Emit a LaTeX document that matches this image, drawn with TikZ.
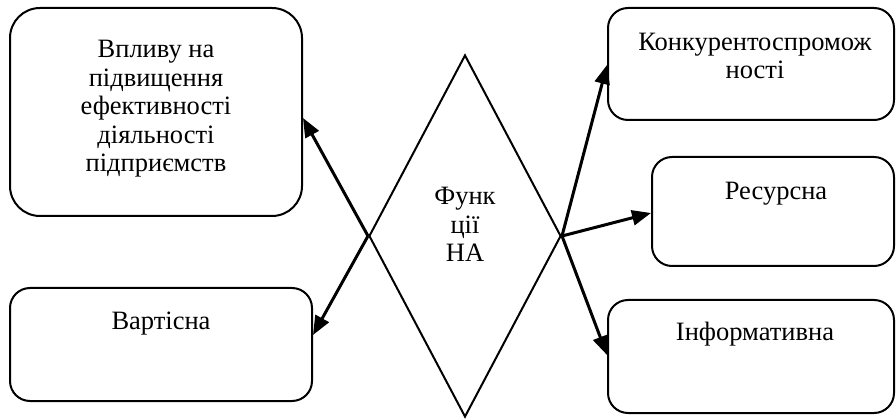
\documentclass[tikz,border=0pt]{standalone}
\usepackage{fontspec}
\setmainfont{Liberation Serif}
\usetikzlibrary{shapes.geometric,arrows.meta}
\begin{document}
\begin{tikzpicture}[x=1pt,y=-1pt,
  box/.style={draw,line width=2pt,inner sep=0pt},
  lab/.style={font=\fontsize{26.5}{28.5}\selectfont,align=center,inner sep=0pt,anchor=base},
  arr/.style={line width=3pt,-{Triangle[length=19pt,width=15pt]}},
  dia/.style={draw,line width=2pt,diamond,inner sep=0pt,minimum width=192pt,minimum height=362pt}]
\useasboundingbox (0,0) rectangle (896,419);
% boxes
\node[box,rounded corners=30pt,minimum width=292pt,minimum height=208pt] (b1) at (156,112) {};
\node[box,rounded corners=20pt,minimum width=302pt,minimum height=113pt] (b2) at (161,344.5) {};
\node[box,rounded corners=20pt,minimum width=286pt,minimum height=112pt] (b3) at (751,64) {};
\node[box,rounded corners=20pt,minimum width=242pt,minimum height=109pt] (b4) at (773,211.5) {};
\node[box,rounded corners=20pt,minimum width=286pt,minimum height=113pt] (b5) at (751,356.5) {};
% diamond
\node[dia] (d) at (465,236) {};
% labels (anchor base = baseline of last line)
\node[lab] (l1) at (156,172) {Впливу на\\підвищення\\ефективності\\діяльності\\підприємств};
\node[lab] (l2) at (161,330) {Вартісна};
\node[lab] (l3) at (755,79) {Конкурентоспромож\\ності};
\node[lab] (l4) at (776,200) {Ресурсна};
\node[lab] (l5) at (755,340) {Інформативна};
\node[lab] (l0) at (465,262) {Функ\\ції\\НА};
% arrow targets
\coordinate (y1) at (0,118);
\coordinate (y2) at (0,335);
\coordinate (y3) at (0,65);
\coordinate (y4) at (0,213);
\coordinate (y5) at (0,355);
\draw[arr] (d.west) -- (b1.east |- y1);
\draw[arr] (d.west) -- (b2.east |- y2);
\draw[arr] (d.east) -- (b3.west |- y3);
\draw[arr] (d.east) -- (b4.west |- y4);
\draw[arr] (d.east) -- (b5.west |- y5);
\end{tikzpicture}
\end{document}
